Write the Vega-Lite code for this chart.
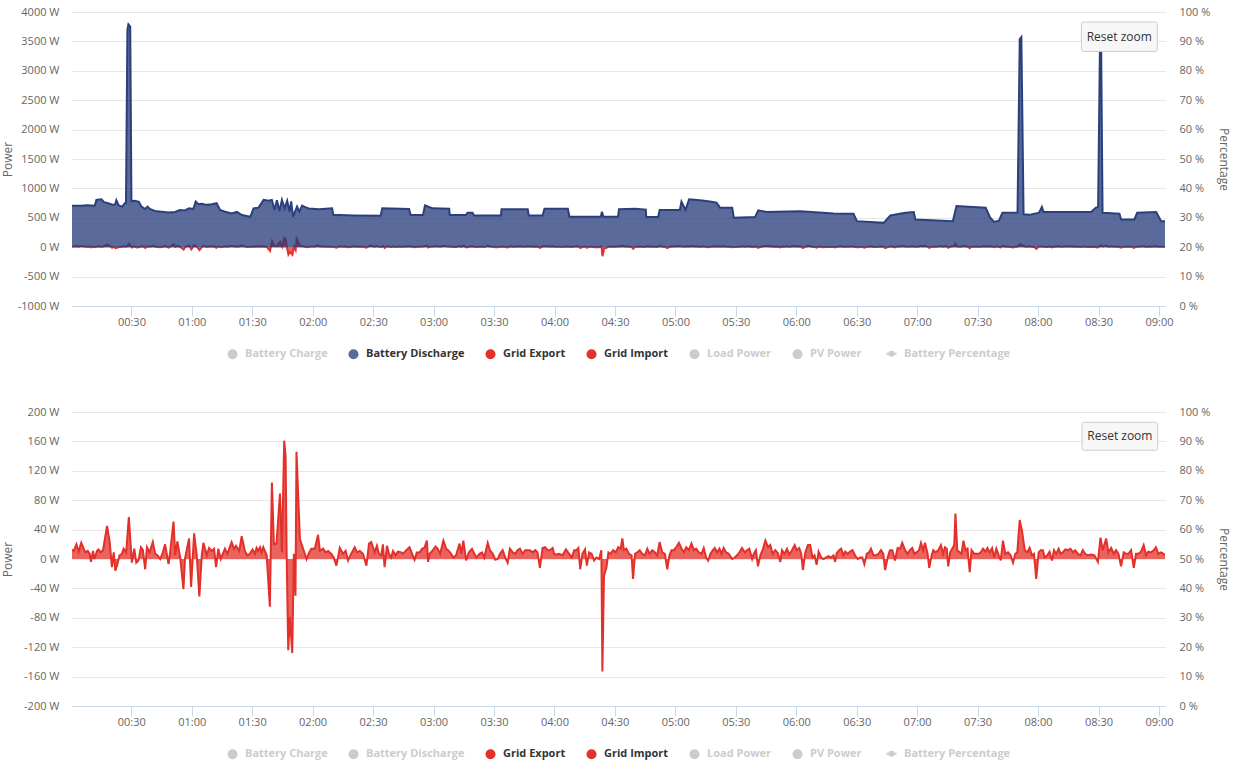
{
  "$schema": "https://vega.github.io/schema/vega-lite/v6.json",
  "background": "white",
  "padding": {"left": 1, "top": 6, "right": 2, "bottom": 0},
  "config": {
    "font": "Open Sans",
    "view": {"stroke": null},
    "axis": {
      "labelFont": "Open Sans", "labelFontSize": 11, "labelColor": "#666666", "labelOverlap": false,
      "titleFont": "Open Sans", "titleFontSize": 12, "titleFontWeight": "normal", "titleColor": "#666666",
      "gridColor": "#e6e6e6", "domain": false, "ticks": false
    },
    "axisX": {"domain": true, "domainColor": "#ccd6eb", "ticks": true, "tickColor": "#ccd6eb", "tickSize": 10, "grid": false, "labelPadding": 0},
    "legend": {
      "labelFont": "Open Sans", "labelFontSize": 11, "labelFontWeight": "bold", "labelColor": "#333333", "labelLimit": 220,
      "symbolType": "circle", "symbolSize": 100, "symbolStrokeWidth": 0, "symbolOpacity": 1,
      "columnPadding": 20, "labelOffset": 7, "offset": 21,
      "layout": {"bottom": {"anchor": "middle"}}
    }
  },
  "datasets": {
    "series": [
      {"name": "Battery Charge"}, {"name": "Battery Discharge"}, {"name": "Grid Export"}, {"name": "Grid Import"},
      {"name": "Load Power"}, {"name": "PV Power"}, {"name": "Battery Percentage"}
    ],
    "battery": [
      {"m":0.5,"v":705},{"m":5.1,"v":705},{"m":8,"v":715},{"m":11.8,"v":705},{"m":12.6,"v":805},{"m":15.1,"v":815},{"m":16.4,"v":765},{"m":18.4,"v":748},{"m":20.9,"v":720},{"m":22.0,"v":730},{"m":22.5,"v":800},{"m":23.7,"v":710},{"m":25.4,"v":690},{"m":26.7,"v":748},{"m":27.3,"v":750},{"m":28.0,"v":3700},{"m":28.5,"v":3790},{"m":29.4,"v":3750},{"m":30.0,"v":780},{"m":31.7,"v":788},{"m":33.7,"v":770},{"m":35.0,"v":690},{"m":36.7,"v":650},{"m":38.0,"v":690},{"m":39.1,"v":650},{"m":41.6,"v":615},{"m":45.0,"v":604},{"m":48.3,"v":592},{"m":51.6,"v":600},{"m":54.1,"v":632},{"m":56.6,"v":625},{"m":58.6,"v":661},{"m":60.7,"v":650},{"m":61.9,"v":776},{"m":63.2,"v":730},{"m":64.9,"v":740},{"m":67.4,"v":720},{"m":69.9,"v":730},{"m":72.3,"v":748},{"m":74.0,"v":632},{"m":76.5,"v":604},{"m":79.8,"v":575},{"m":82.3,"v":600},{"m":84.8,"v":546},{"m":89.0,"v":518},{"m":90.6,"v":661},{"m":93.1,"v":673},{"m":95.6,"v":805},{"m":98.1,"v":790},{"m":99.7,"v":805},{"m":101.0,"v":632},{"m":102.2,"v":800},{"m":103.5,"v":615},{"m":104.7,"v":805},{"m":106.0,"v":660},{"m":107.3,"v":790},{"m":108.5,"v":604},{"m":109.3,"v":780},{"m":110.2,"v":518},{"m":112.2,"v":690},{"m":113.3,"v":604},{"m":114.7,"v":707},{"m":116.3,"v":680},{"m":118.0,"v":660},{"m":123.0,"v":645},{"m":129.6,"v":661},{"m":130.2,"v":550},{"m":140,"v":540},{"m":153.7,"v":535},{"m":154.5,"v":661},{"m":167.8,"v":650},{"m":168.6,"v":546},{"m":174.7,"v":546},{"m":175.7,"v":713},{"m":177.7,"v":684},{"m":179.4,"v":661},{"m":187.7,"v":655},{"m":188.0,"v":546},{"m":196.0,"v":546},{"m":196.8,"v":586},{"m":199.3,"v":586},{"m":200.1,"v":540},{"m":213.4,"v":540},{"m":213.7,"v":644},{"m":226.7,"v":644},{"m":227.2,"v":540},{"m":234.1,"v":540},{"m":235.0,"v":655},{"m":246.6,"v":655},{"m":247.4,"v":517},{"m":263.0,"v":517},{"m":263.5,"v":604},{"m":264.3,"v":517},{"m":271.5,"v":517},{"m":272.0,"v":644},{"m":280.0,"v":655},{"m":285.3,"v":640},{"m":285.5,"v":512},{"m":291.4,"v":512},{"m":292.2,"v":632},{"m":302.2,"v":632},{"m":303.0,"v":776},{"m":305.0,"v":632},{"m":306.8,"v":816},{"m":312.1,"v":800},{"m":317.1,"v":776},{"m":320.4,"v":759},{"m":322.1,"v":673},{"m":328.2,"v":673},{"m":329.0,"v":500},{"m":339.5,"v":512},{"m":341.1,"v":627},{"m":345.3,"v":598},{"m":361.9,"v":610},{"m":378.5,"v":575},{"m":388.4,"v":570},{"m":390.1,"v":443},{"m":403.4,"v":414},{"m":406.7,"v":540},{"m":414.2,"v":586},{"m":418.3,"v":598},{"m":419.1,"v":472},{"m":437.7,"v":443},{"m":439.5,"v":701},{"m":454.0,"v":673},{"m":456.1,"v":512},{"m":458.1,"v":431},{"m":460.6,"v":450},{"m":462.3,"v":586},{"m":469.8,"v":590},{"m":470.9,"v":3540},{"m":471.7,"v":3575},{"m":472.8,"v":560},{"m":475.6,"v":550},{"m":480.5,"v":586},{"m":481.9,"v":684},{"m":482.7,"v":598},{"m":493.0,"v":598},{"m":506.3,"v":598},{"m":508.7,"v":673},{"m":509.8,"v":680},{"m":510.7,"v":3400},{"m":511.3,"v":3450},{"m":512.0,"v":586},{"m":520.4,"v":570},{"m":521.2,"v":472},{"m":527.8,"v":472},{"m":529.2,"v":586},{"m":538.6,"v":598},{"m":541.1,"v":443},{"m":543.0,"v":443}
    ],
    "grid": [
      {"m":0.6,"v":13},{"m":1.5,"v":11},{"m":2.8,"v":20},{"m":3.9,"v":10},{"m":5.2,"v":22},{"m":6.4,"v":14},{"m":7.2,"v":9},{"m":8.4,"v":11},{"m":9.4,"v":7},{"m":10.0,"v":-4},{"m":11.0,"v":11},{"m":11.7,"v":0},{"m":13.0,"v":11},{"m":13.8,"v":13},{"m":14.7,"v":9},{"m":16.0,"v":12},{"m":18.0,"v":45},{"m":19.3,"v":23},{"m":20.4,"v":-11},{"m":21.3,"v":9},{"m":22.1,"v":-16},{"m":22.9,"v":-9},{"m":24.2,"v":5},{"m":25.4,"v":7},{"m":26.2,"v":14},{"m":27.5,"v":9},{"m":28.8,"v":57},{"m":30.3,"v":-5},{"m":31.5,"v":14},{"m":32.5,"v":-5},{"m":33.6,"v":-2},{"m":34.8,"v":16},{"m":35.8,"v":12},{"m":36.9,"v":-14},{"m":37.8,"v":16},{"m":39.1,"v":9},{"m":40.7,"v":23},{"m":41.9,"v":7},{"m":43.0,"v":5},{"m":44.4,"v":0},{"m":45.7,"v":9},{"m":46.8,"v":20},{"m":48.5,"v":-7},{"m":49.3,"v":9},{"m":51.0,"v":51},{"m":51.8,"v":5},{"m":52.9,"v":24},{"m":54.3,"v":2},{"m":55.9,"v":-41},{"m":56.7,"v":1},{"m":58.7,"v":28},{"m":59.7,"v":-38},{"m":61.2,"v":35},{"m":62.5,"v":5},{"m":63.8,"v":-51},{"m":65.0,"v":5},{"m":65.8,"v":22},{"m":67.5,"v":5},{"m":68.6,"v":15},{"m":69.9,"v":11},{"m":71.1,"v":14},{"m":72.1,"v":-11},{"m":73.2,"v":14},{"m":74.4,"v":0},{"m":76.5,"v":14},{"m":77.7,"v":7},{"m":79.8,"v":23},{"m":81.0,"v":14},{"m":82.0,"v":18},{"m":83.6,"v":11},{"m":84.8,"v":31},{"m":86.4,"v":11},{"m":87.6,"v":5},{"m":88.9,"v":7},{"m":90.2,"v":13},{"m":91.4,"v":7},{"m":92.2,"v":15},{"m":93.0,"v":11},{"m":93.9,"v":16},{"m":94.7,"v":9},{"m":95.5,"v":16},{"m":97.2,"v":5},{"m":98.8,"v":-65},{"m":99.8,"v":104},{"m":100.8,"v":20},{"m":102.1,"v":21},{"m":103.8,"v":89},{"m":104.8,"v":9},{"m":105.9,"v":161},{"m":106.6,"v":140},{"m":107.1,"v":10},{"m":107.9,"v":-124},{"m":108.7,"v":-79},{"m":109.9,"v":-128},{"m":110.7,"v":7},{"m":111.5,"v":-50},{"m":112.0,"v":146},{"m":113.7,"v":27},{"m":115.3,"v":14},{"m":117.0,"v":0},{"m":118.3,"v":9},{"m":119.4,"v":14},{"m":121.1,"v":14},{"m":122.7,"v":33},{"m":123.6,"v":11},{"m":125.2,"v":14},{"m":126.5,"v":9},{"m":127.7,"v":11},{"m":129.3,"v":7},{"m":130.5,"v":2},{"m":131.8,"v":-9},{"m":133.5,"v":15},{"m":135.1,"v":7},{"m":136.4,"v":11},{"m":137.6,"v":-2},{"m":138.7,"v":5},{"m":140.9,"v":16},{"m":142.0,"v":9},{"m":143.4,"v":11},{"m":145.0,"v":7},{"m":146.7,"v":-9},{"m":148.0,"v":21},{"m":149.1,"v":23},{"m":150.8,"v":9},{"m":151.9,"v":18},{"m":152.9,"v":7},{"m":154.1,"v":5},{"m":154.9,"v":20},{"m":155.7,"v":-11},{"m":156.9,"v":18},{"m":157.9,"v":7},{"m":159.0,"v":2},{"m":159.9,"v":11},{"m":161.2,"v":5},{"m":162.3,"v":10},{"m":164.0,"v":9},
      {"m":164.8,"v":7},{"m":166.5,"v":12},{"m":168.1,"v":16},{"m":169.4,"v":7},{"m":170.6,"v":-1},{"m":171.7,"v":9},{"m":173.1,"v":9},{"m":174.4,"v":14},{"m":175.5,"v":15},{"m":176.7,"v":25},{"m":177.3,"v":-4},{"m":178.0,"v":7},{"m":179.7,"v":12},{"m":181.0,"v":17},{"m":182.1,"v":14},{"m":183.3,"v":7},{"m":184.9,"v":25},{"m":186.3,"v":14},{"m":187.6,"v":11},{"m":188.7,"v":7},{"m":189.9,"v":2},{"m":191.2,"v":5},{"m":192.9,"v":21},{"m":193.8,"v":7},{"m":194.8,"v":25},{"m":196.2,"v":-2},{"m":197.5,"v":9},{"m":199.1,"v":14},{"m":200.3,"v":7},{"m":201.4,"v":2},{"m":202.8,"v":7},{"m":204.1,"v":9},{"m":205.2,"v":2},{"m":206.9,"v":22},{"m":208.0,"v":12},{"m":209.4,"v":7},{"m":210.7,"v":-1},{"m":211.8,"v":0},{"m":213.0,"v":7},{"m":214.3,"v":12},{"m":215.6,"v":2},{"m":216.8,"v":-5},{"m":217.9,"v":14},{"m":219.3,"v":9},{"m":220.6,"v":7},{"m":221.7,"v":12},{"m":222.9,"v":14},{"m":224.2,"v":7},{"m":225.5,"v":12},{"m":226.7,"v":12},{"m":227.8,"v":12},{"m":229.2,"v":9},{"m":230.5,"v":12},{"m":231.6,"v":9},{"m":232.8,"v":-12},{"m":234.1,"v":15},{"m":235.4,"v":16},{"m":236.6,"v":12},{"m":237.7,"v":12},{"m":239.1,"v":15},{"m":239.9,"v":7},{"m":241.0,"v":6},{"m":242.4,"v":7},{"m":244.0,"v":5},{"m":245.7,"v":13},{"m":247.3,"v":7},{"m":248.6,"v":2},{"m":249.8,"v":12},{"m":250.9,"v":12},{"m":251.9,"v":15},{"m":252.8,"v":-14},{"m":253.9,"v":7},{"m":255.2,"v":13},{"m":256.1,"v":-9},{"m":257.2,"v":9},{"m":258.5,"v":7},{"m":259.7,"v":-2},{"m":260.8,"v":2},{"m":262.2,"v":0},{"m":263.3,"v":12},{"m":263.8,"v":-153},{"m":264.6,"v":-23},{"m":265.8,"v":-12},{"m":266.8,"v":9},{"m":267.9,"v":7},{"m":269.1,"v":12},{"m":270.4,"v":9},{"m":271.7,"v":16},{"m":272.9,"v":14},{"m":273.7,"v":28},{"m":274.5,"v":12},{"m":275.7,"v":14},{"m":277.0,"v":7},{"m":278.3,"v":5},{"m":279.0,"v":-27},{"m":280.0,"v":7},{"m":281.1,"v":9},{"m":282.3,"v":12},{"m":283.6,"v":7},{"m":284.9,"v":5},{"m":286.1,"v":14},{"m":287.2,"v":7},{"m":288.6,"v":12},{"m":289.9,"v":9},{"m":291.0,"v":5},{"m":292.2,"v":23},{"m":293.5,"v":9},{"m":294.8,"v":7},{"m":296.0,"v":-14},{"m":297.1,"v":5},{"m":298.1,"v":12},{"m":299.3,"v":12},{"m":300.4,"v":16},{"m":301.8,"v":22},{"m":303.1,"v":14},{"m":304.2,"v":9},{"m":305.4,"v":16},{"m":306.7,"v":12},{"m":308.0,"v":21},{"m":309.2,"v":12},{"m":310.3,"v":14},{"m":311.7,"v":9},{"m":313.0,"v":7},{"m":314.1,"v":15},{"m":315.3,"v":2},{"m":316.3,"v":-2},{"m":317.4,"v":7},{"m":318.6,"v":12},{"m":319.6,"v":15},{"m":320.7,"v":9},{"m":321.9,"v":14},{"m":322.9,"v":7},{"m":324.0,"v":15},{"m":325.2,"v":9},{"m":326.5,"v":7},{"m":328.2,"v":0},{"m":329.5,"v":2},{"m":330.6,"v":5},{"m":331.8,"v":9},{"m":333.1,"v":15},{"m":334.4,"v":9},{"m":335.6,"v":12},{"m":336.7,"v":14},{"m":338.1,"v":0},{"m":338.9,"v":7},{"m":340.0,"v":12},{"m":341.0,"v":-10},{"m":342.2,"v":5},{"m":343.3,"v":12},{"m":344.7,"v":25},{"m":346.0,"v":16},{"m":347.1,"v":19},{"m":348.3,"v":7},{"m":349.6,"v":12},{"m":350.9,"v":8},{"m":352.1,"v":-4},
      {"m":352.9,"v":12},{"m":354.2,"v":7},{"m":355.4,"v":14},{"m":356.5,"v":6},{"m":357.9,"v":12},{"m":359.2,"v":19},{"m":360.3,"v":12},{"m":361.5,"v":15},{"m":362.5,"v":7},{"m":363.3,"v":-15},{"m":364.5,"v":9},{"m":365.8,"v":19},{"m":366.9,"v":19},{"m":368.1,"v":2},{"m":369.1,"v":5},{"m":370.1,"v":-8},{"m":371.1,"v":10},{"m":372.4,"v":2},{"m":373.5,"v":0},{"m":374.7,"v":2},{"m":376.0,"v":4},{"m":377.3,"v":2},{"m":378.5,"v":5},{"m":379.3,"v":-4},{"m":380.1,"v":8},{"m":381.3,"v":12},{"m":382.3,"v":14},{"m":383.4,"v":5},{"m":384.3,"v":10},{"m":385.6,"v":7},{"m":386.7,"v":10},{"m":387.9,"v":12},{"m":389.2,"v":5},{"m":390.5,"v":0},{"m":391.7,"v":2},{"m":392.8,"v":2},{"m":393.8,"v":-7},{"m":395.0,"v":7},{"m":396.1,"v":9},{"m":397.1,"v":14},{"m":398.3,"v":5},{"m":399.4,"v":5},{"m":400.8,"v":7},{"m":402.1,"v":12},{"m":403.2,"v":7},{"m":404.1,"v":-15},{"m":405.4,"v":2},{"m":406.5,"v":12},{"m":407.7,"v":12},{"m":409.0,"v":-2},{"m":410.3,"v":15},{"m":411.5,"v":14},{"m":412.6,"v":22},{"m":414.0,"v":12},{"m":415.3,"v":7},{"m":416.4,"v":12},{"m":417.6,"v":15},{"m":418.6,"v":7},{"m":419.7,"v":9},{"m":420.9,"v":12},{"m":421.9,"v":22},{"m":423.0,"v":12},{"m":423.9,"v":22},{"m":425.2,"v":7},{"m":426.0,"v":-12},{"m":427.2,"v":5},{"m":428.0,"v":12},{"m":429.1,"v":9},{"m":430.5,"v":12},{"m":431.8,"v":19},{"m":432.9,"v":7},{"m":433.8,"v":16},{"m":434.7,"v":14},{"m":435.4,"v":-10},{"m":436.4,"v":9},{"m":437.4,"v":14},{"m":438.4,"v":19},{"m":439.0,"v":62},{"m":439.9,"v":12},{"m":441.2,"v":9},{"m":442.0,"v":7},{"m":443.0,"v":25},{"m":444.0,"v":12},{"m":445.0,"v":14},{"m":446.1,"v":-18},{"m":447.0,"v":12},{"m":448.3,"v":7},{"m":449.4,"v":7},{"m":450.6,"v":7},{"m":451.6,"v":9},{"m":452.7,"v":14},{"m":453.9,"v":10},{"m":454.9,"v":15},{"m":456.0,"v":9},{"m":457.2,"v":15},{"m":458.2,"v":2},{"m":459.3,"v":14},{"m":460.5,"v":5},{"m":461.5,"v":-2},{"m":462.6,"v":25},{"m":463.8,"v":7},{"m":465.1,"v":9},{"m":466.4,"v":5},{"m":467.6,"v":-5},{"m":468.7,"v":7},{"m":469.7,"v":9},{"m":470.9,"v":53},{"m":472.0,"v":39},{"m":473.4,"v":12},{"m":474.7,"v":9},{"m":475.8,"v":15},{"m":477.0,"v":5},{"m":478.0,"v":7},{"m":479.1,"v":-27},{"m":480.3,"v":9},{"m":481.3,"v":12},{"m":482.4,"v":12},{"m":483.3,"v":2},{"m":484.6,"v":5},{"m":485.7,"v":10},{"m":486.9,"v":-2},{"m":487.9,"v":12},{"m":489.0,"v":7},{"m":490.2,"v":14},{"m":491.2,"v":7},{"m":492.3,"v":9},{"m":493.5,"v":13},{"m":494.8,"v":12},{"m":496.1,"v":14},{"m":497.3,"v":9},{"m":498.4,"v":12},{"m":499.8,"v":7},{"m":501.1,"v":5},{"m":502.2,"v":12},{"m":503.4,"v":7},{"m":504.7,"v":5},{"m":506.4,"v":6},{"m":508.0,"v":5},{"m":509.7,"v":-4},{"m":511.0,"v":29},{"m":512.1,"v":12},{"m":513.8,"v":28},{"m":514.9,"v":9},{"m":516.3,"v":15},{"m":517.6,"v":7},{"m":518.7,"v":12},{"m":519.9,"v":7},{"m":521.2,"v":-10},{"m":522.5,"v":9},{"m":523.7,"v":7},{"m":524.8,"v":7},{"m":526.2,"v":12},{"m":527.5,"v":-12},{"m":528.6,"v":7},{"m":529.8,"v":7},{"m":531.1,"v":10},{"m":532.4,"v":19},{"m":533.6,"v":5},{"m":534.7,"v":10},{"m":536.1,"v":9},{"m":537.4,"v":12},{"m":538.5,"v":16},{"m":539.7,"v":7},{"m":541.0,"v":9},{"m":542.3,"v":7},{"m":543.0,"v":5}
    ]
  },
  "spacing": 46,
  "resolve": {"scale": {"x": "independent", "y": "independent", "color": "independent"}},
  "vconcat": [
    {
      "width": 1093,
      "height": 294,
      "resolve": {"scale": {"y": "independent"}},
      "layer": [
        {
          "layer": [
            {
              "data": {"name": "grid"},
              "mark": {"type": "area", "color": "#e3302a", "fillOpacity": 0.75, "line": {"color": "#e3302a", "strokeWidth": 2}, "clip": true},
              "encoding": {
                "x": {"field": "m", "type": "quantitative", "scale": {"domain": [0.5, 543], "nice": false, "zero": false},
                  "axis": {"title": null, "tickCount": 40, "values": [30,60,90,120,150,180,210,240,270,300,330,360,390,420,450,480,510,540], "labelExpr": "timeFormat(datetime(2020, 0, 1, 0, datum.value), '%H:%M')"}},
                "y": {"field": "v", "type": "quantitative", "scale": {"domain": [-1000, 4000], "nice": false, "zero": false},
                  "axis": {"title": "Power", "tickCount": 20, "values": [-1000,-500,0,500,1000,1500,2000,2500,3000,3500,4000], "labelExpr": "datum.value + ' W'", "grid": true, "labelPadding": 13, "titlePadding": 3}},
                "y2": {"datum": 0}
              }
            },
            {
              "data": {"name": "battery"},
              "mark": {"type": "area", "color": "#233a7a", "fillOpacity": 0.75, "line": {"color": "#2b3f7d", "strokeWidth": 2}, "clip": true},
              "encoding": {
                "x": {"field": "m", "type": "quantitative"},
                "y": {"field": "v", "type": "quantitative"},
                "y2": {"datum": 0}
              }
            },
            {
              "data": {"values": [{"label": "Reset zoom"}]},
              "layer": [
                {
                  "mark": {"type": "rect", "fill": "#f7f7f7", "stroke": "#cccccc", "strokeWidth": 1, "cornerRadius": 2},
                  "encoding": {"x": {"datum": 501.5}, "x2": {"datum": 539.2}, "y": {"datum": 3830}, "y2": {"datum": 3330}}
                },
                {
                  "mark": {"type": "text", "font": "Open Sans", "fontSize": 12, "color": "#333333"},
                  "encoding": {"x": {"datum": 520.3}, "y": {"datum": 3580}, "text": {"field": "label"}}
                }
              ]
            },
            {
              "data": {"name": "series"},
              "mark": {"type": "circle", "opacity": 0},
              "encoding": {
                "color": {"field": "name", "type": "nominal",
                  "scale": {"domain": ["Battery Charge","Battery Discharge","Grid Export","Grid Import","Load Power","PV Power","Battery Percentage"],
                    "range": ["#cccccc","#5a6b9b","#e3302a","#e3302a","#cccccc","#cccccc","#cccccc"]},
                  "legend": {"title": null, "orient": "bottom", "direction": "horizontal",
                    "encode": {
                      "labels": {"update": {"fill": {"signal": "indexof(['Battery Discharge','Grid Export','Grid Import'], datum.value) >= 0 ? '#333333' : '#cccccc'"}}},
                      "symbols": {"update": {
                        "opacity": {"value": 1},
                        "shape": {"signal": "datum.value === 'Battery Percentage' ? 'M-1,0L1,0M-0.4,0A0.4,0.4,0,1,1,0.4,0A0.4,0.4,0,1,1,-0.4,0' : 'circle'"},
                        "stroke": {"value": "#cccccc"},
                        "strokeWidth": {"signal": "datum.value === 'Battery Percentage' ? 2 : 0"}
                      }}
                    }}
                }
              }
            }
          ]
        },
        {
          "data": {"values": [{}]},
          "mark": {"type": "rule", "opacity": 0},
          "encoding": {
            "y": {"datum": 0, "type": "quantitative", "scale": {"domain": [0, 100], "nice": false},
              "axis": {"orient": "right", "title": "Percentage", "tickCount": 20, "values": [0,10,20,30,40,50,60,70,80,90,100], "labelExpr": "datum.value + ' %'", "grid": false, "labelPadding": 14, "titlePadding": 7}}
          }
        }
      ]
    },
    {
      "width": 1093,
      "height": 294,
      "resolve": {"scale": {"y": "independent"}},
      "layer": [
        {
          "layer": [
            {
              "data": {"name": "grid"},
              "mark": {"type": "area", "color": "#e3302a", "fillOpacity": 0.75, "line": {"color": "#e3302a", "strokeWidth": 2}, "clip": true},
              "encoding": {
                "x": {"field": "m", "type": "quantitative", "scale": {"domain": [0.6, 543], "nice": false, "zero": false},
                  "axis": {"title": null, "tickCount": 40, "values": [30,60,90,120,150,180,210,240,270,300,330,360,390,420,450,480,510,540], "labelExpr": "timeFormat(datetime(2020, 0, 1, 0, datum.value), '%H:%M')"}},
                "y": {"field": "v", "type": "quantitative", "scale": {"domain": [-200, 200], "nice": false, "zero": false},
                  "axis": {"title": "Power", "tickCount": 20, "values": [-200,-160,-120,-80,-40,0,40,80,120,160,200], "labelExpr": "datum.value + ' W'", "grid": true, "labelPadding": 13, "titlePadding": 9}},
                "y2": {"datum": 0}
              }
            },
            {
              "data": {"values": [{"label": "Reset zoom"}]},
              "layer": [
                {
                  "mark": {"type": "rect", "fill": "#f7f7f7", "stroke": "#cccccc", "strokeWidth": 1, "cornerRadius": 2},
                  "encoding": {"x": {"datum": 501.8}, "x2": {"datum": 539.4}, "y": {"datum": 186}, "y2": {"datum": 148}}
                },
                {
                  "mark": {"type": "text", "font": "Open Sans", "fontSize": 12, "color": "#333333"},
                  "encoding": {"x": {"datum": 520.6}, "y": {"datum": 167}, "text": {"field": "label"}}
                }
              ]
            },
            {
              "data": {"name": "series"},
              "mark": {"type": "circle", "opacity": 0},
              "encoding": {
                "color": {"field": "name", "type": "nominal",
                  "scale": {"domain": ["Battery Charge","Battery Discharge","Grid Export","Grid Import","Load Power","PV Power","Battery Percentage"],
                    "range": ["#cccccc","#cccccc","#e3302a","#e3302a","#cccccc","#cccccc","#cccccc"]},
                  "legend": {"title": null, "orient": "bottom", "direction": "horizontal",
                    "encode": {
                      "labels": {"update": {"fill": {"signal": "indexof(['Grid Export','Grid Import'], datum.value) >= 0 ? '#333333' : '#cccccc'"}}},
                      "symbols": {"update": {
                        "opacity": {"value": 1},
                        "shape": {"signal": "datum.value === 'Battery Percentage' ? 'M-1,0L1,0M-0.4,0A0.4,0.4,0,1,1,0.4,0A0.4,0.4,0,1,1,-0.4,0' : 'circle'"},
                        "stroke": {"value": "#cccccc"},
                        "strokeWidth": {"signal": "datum.value === 'Battery Percentage' ? 2 : 0"}
                      }}
                    }}
                }
              }
            }
          ]
        },
        {
          "data": {"values": [{}]},
          "mark": {"type": "rule", "opacity": 0},
          "encoding": {
            "y": {"datum": 0, "type": "quantitative", "scale": {"domain": [0, 100], "nice": false},
              "axis": {"orient": "right", "title": "Percentage", "tickCount": 20, "values": [0,10,20,30,40,50,60,70,80,90,100], "labelExpr": "datum.value + ' %'", "grid": false, "labelPadding": 14, "titlePadding": 7}}
          }
        }
      ]
    }
  ]
}
